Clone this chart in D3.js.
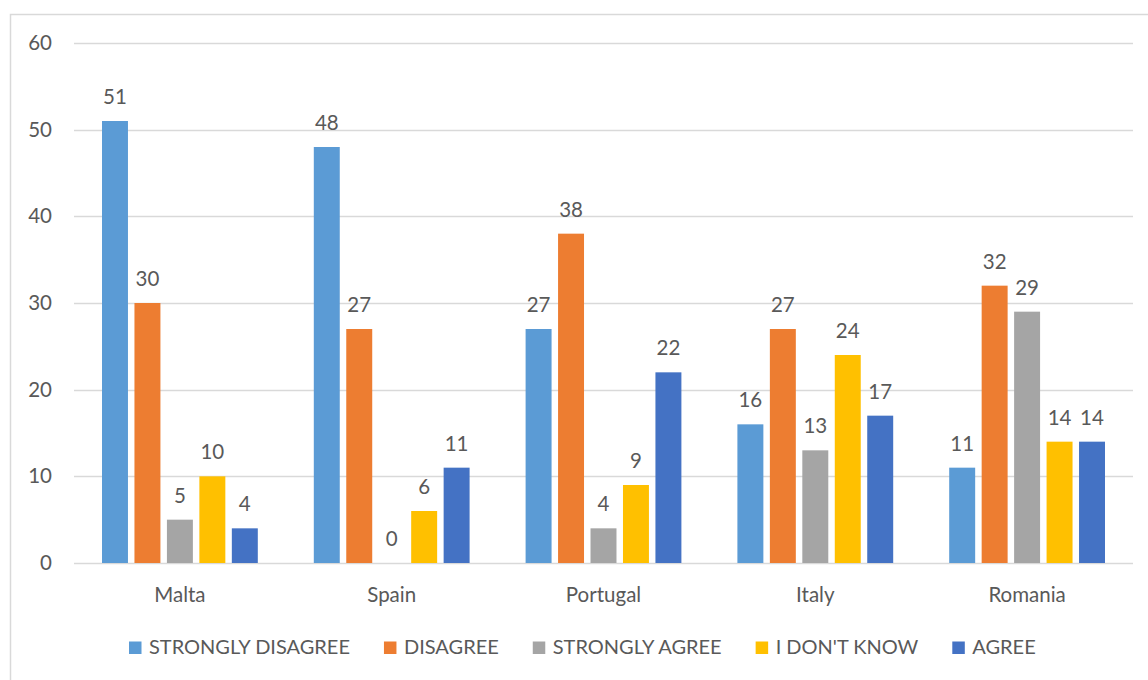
<!DOCTYPE html>
<html><head><meta charset="utf-8">
<script src="https://cdn.jsdelivr.net/npm/d3@7"></script>
<style>
html,body{margin:0;padding:0;background:#fff;}
text{font-family:"Lato","Open Sans",sans-serif;fill:#595959;}
</style></head>
<body><svg id="c" width="1148" height="680"></svg>
<script>
const categories = ["Malta","Spain","Portugal","Italy","Romania"];
const seriesNames = ["STRONGLY DISAGREE","DISAGREE","STRONGLY AGREE","I DON'T KNOW","AGREE"];
const stronglyDisagree = [51,48,27,16,11];
const disagree = [30,27,38,27,32];
const stronglyAgree = [5,0,4,13,29];
const dontKnow = [10,6,9,24,14];
const agree = [4,11,22,17,14];
const yTicks = [0,10,20,30,40,50,60];
const colors = ["#5B9BD5","#ED7D31","#A5A5A5","#FFC000","#4472C4"];

(function(){
const seriesValues = [stronglyDisagree, disagree, stronglyAgree, dontKnow, agree];
const svg = d3.select("#c");
const FS = 20.5;

// chart border
svg.append("rect").attr("x",10.5).attr("y",14.5).attr("width",1150).attr("height",700)
  .attr("fill","none").attr("stroke","#D9D9D9").attr("stroke-width",1.5);

const pLeft=74, pRight=1133, pTop=43, pBottom=563;
const y = d3.scaleLinear().domain([0,60]).range([pBottom, pTop]);
const x0 = d3.scaleBand().domain(categories).range([pLeft,pRight]).padding(0);
const outer = 28;
const x1 = d3.scaleBand().domain(seriesNames).range([outer, x0.bandwidth()-outer]).paddingInner(0.2).paddingOuter(0);

// gridlines
svg.append("g").selectAll("line").data(yTicks).join("line")
  .attr("x1",pLeft).attr("x2",pRight)
  .attr("y1",d=>Math.round(y(d))+0.5).attr("y2",d=>Math.round(y(d))+0.5)
  .attr("stroke","#D9D9D9").attr("stroke-width",1.5);

// y axis labels
const yAxis = d3.axisLeft(y).tickValues(yTicks).tickSize(0).tickPadding(0);
const yg = svg.append("g").attr("transform",`translate(52,0)`).call(yAxis);
yg.select(".domain").remove();
yg.attr("font-size",FS).attr("font-family",null);
yg.selectAll("text").style("fill","#595959");

// x axis labels
const xAxis = d3.axisBottom(x0).tickSize(0).tickPadding(0);
const xg = svg.append("g").attr("transform",`translate(0,602)`).call(xAxis);
xg.select(".domain").remove();
xg.attr("font-size",FS).attr("font-family",null);
xg.selectAll("text").attr("dy",null).attr("y",0).style("fill","#595959");

// bars
const groups = svg.append("g").selectAll("g").data(categories).join("g")
  .attr("transform",d=>`translate(${x0(d)},0)`);
groups.each(function(cat, ci){
  const g = d3.select(this);
  seriesNames.forEach((s, si)=>{
    const v = seriesValues[si][ci];
    g.append("rect").attr("x",x1(s)).attr("width",x1.bandwidth())
      .attr("y",y(v)).attr("height",pBottom - y(v))
      .attr("fill",colors[si]);
    g.append("text").attr("x",x1(s)+x1.bandwidth()/2).attr("y",y(v)-17)
      .attr("text-anchor","middle").attr("font-size",FS).text(v);
  });
});

// legend
const lg = svg.append("g");
let lx = 129;
const ly = 654;
seriesNames.forEach((s,i)=>{
  lg.append("rect").attr("x",lx).attr("y",ly-12.5).attr("width",12.5).attr("height",12.5).attr("fill",colors[i]);
  const t = lg.append("text").attr("x",lx+20).attr("y",ly).attr("font-size",20).text(s);
  const w = t.node().getComputedTextLength();
  lx = lx + 20 + w + 34;
});
})();
</script></body></html>
